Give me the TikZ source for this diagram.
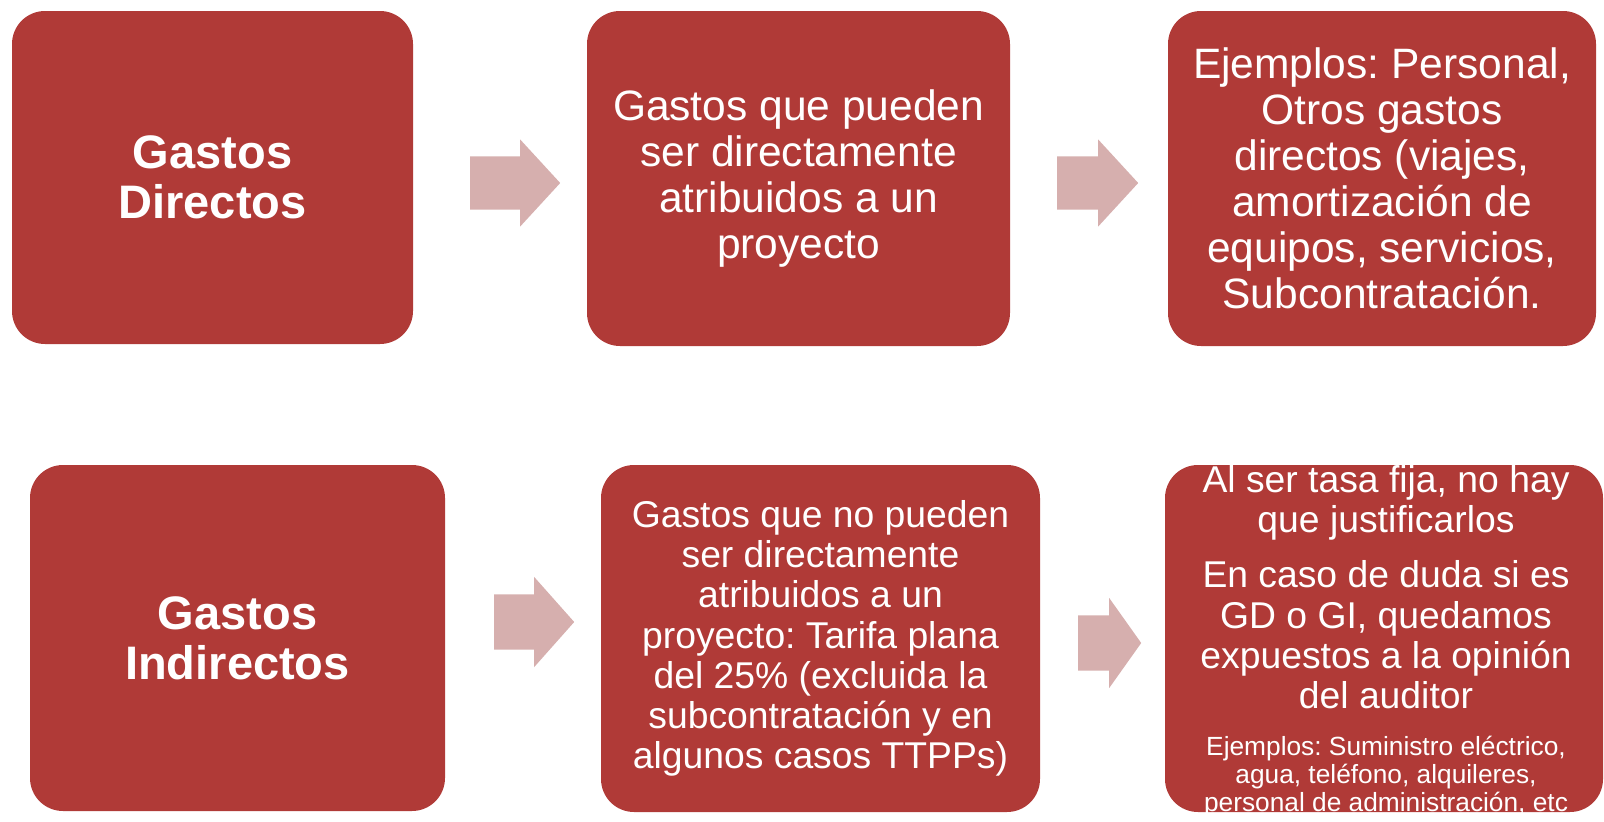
\documentclass[tikz,border=0pt]{standalone}
\usepackage{fontspec}
\setmainfont{Liberation Sans}
\usetikzlibrary{shapes.arrows}
\definecolor{caja}{RGB}{176,58,55}
\definecolor{flecha}{RGB}{214,175,174}
\frenchspacing

\begin{document}
\begin{tikzpicture}[x=1pt,y=-1pt]
      \useasboundingbox(0,0) rectangle (1604,822);
      \tikzset{B/.style = {shape=rectangle, rounded corners=33pt, fill=caja, text=white, align=center, inner sep=0pt}}
      \tikzset{A/.style = {shape=single arrow, fill=flecha, anchor=tail, inner xsep=0pt, minimum width=0pt, single arrow head indent=0pt}}
      \tikzset{T/.style = {text=white, align=center, inner sep=0pt}}
      \node[B,minimum width=401pt,minimum height=333pt,font=\bfseries\fontsize{47}{50}\selectfont](gd) at (212.5,177.5) {Gastos\\Directos};
      \node[B,minimum width=423pt,minimum height=335pt,font=\fontsize{42.5}{46}\selectfont](gd1) at (798.5,178.5) {Gastos que pueden\\ser directamente\\atribuidos a un\\proyecto};
      \node[B,minimum width=428pt,minimum height=335pt,font=\fontsize{42.5}{46}\selectfont](gd2) at (1382,178.5) {Ejemplos: Personal,\\Otros gastos\\directos (viajes,\\amortización de\\equipos, servicios,\\Subcontratación.};
      \node[B,minimum width=415pt,minimum height=346pt,font=\bfseries\fontsize{47}{50}\selectfont](gi) at (237.5,638) {Gastos\\Indirectos};
      \node[B,minimum width=439pt,minimum height=347pt,font=\fontsize{37.3}{40.2}\selectfont](gi1) at (820.5,638.5) {Gastos que no pueden\\ser directamente\\atribuidos a un\\proyecto: Tarifa plana\\del 25\% (excluida la\\subcontratación y en\\algunos casos TTPPs)};
      \node[B,minimum width=438pt,minimum height=347pt](gi2) at (1384,638.5) {};
      \node[T,font=\fontsize{37.3}{40}\selectfont](t0) at (1386,502.5) {Al ser tasa fija, no hay\\que justificarlos};
      \node[T,font=\fontsize{37.3}{40.3}\selectfont](t1) at (1386,635) {En caso de duda si es\\GD o GI, quedamos\\expuestos a la opinión\\del auditor};
      \node[T,font=\fontsize{26.3}{28}\selectfont](t2) at (1386,776.7) {Ejemplos: Suministro eléctrico,\\agua, teléfono, alquileres,\\personal de administración, etc};
      \node[A,inner ysep=26.5pt,minimum height=90pt,single arrow head extend=17pt,single arrow tip angle=94.8](a0) at (470,183) {};
      \node[A,inner ysep=26.5pt,minimum height=81pt,single arrow head extend=17pt,single arrow tip angle=94.8](a1) at (1057,183) {};
      \node[A,inner ysep=27.5pt,minimum height=80pt,single arrow head extend=17.5pt,single arrow tip angle=96.8](a2) at (494,622) {};
      \node[A,inner ysep=27.5pt,minimum height=63pt,single arrow head extend=17.5pt,single arrow tip angle=109.2](a3) at (1078,643) {};
    \end{tikzpicture}
\end{document}
